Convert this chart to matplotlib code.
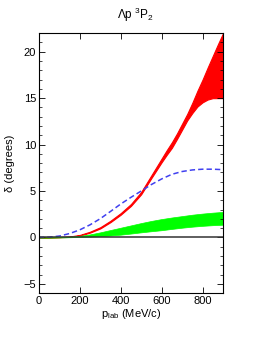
import numpy as np
import matplotlib
matplotlib.use("Agg")
import matplotlib.pyplot as plt
from matplotlib.ticker import MultipleLocator

plt.rcParams['font.family'] = ['Liberation Sans', 'DejaVu Sans']
plt.rcParams['mathtext.fontset'] = 'custom'
plt.rcParams['mathtext.rm'] = 'Liberation Sans'
plt.rcParams['mathtext.it'] = 'Liberation Sans:italic'

# red band (upper / lower)
p_red = [0, 50, 100, 150, 200, 250, 300, 350, 400, 450, 500, 550, 600, 625, 650, 675,
         700, 725, 750, 775, 800, 825, 850, 875, 900]
red_up = [0, 0.01, 0.04, 0.1, 0.27, 0.62, 1.1, 1.8, 2.62, 3.6, 4.9, 6.7, 8.5, 9.4, 10.25, 11.2,
          12.25, 13.3, 14.5, 15.8, 17.0, 18.3, 19.55, 20.8, 22.0]
red_lo = [0, 0.0, 0.02, 0.06, 0.2, 0.52, 0.97, 1.65, 2.45, 3.4, 4.65, 6.4, 8.1, 8.9, 9.65, 10.6,
          11.6, 12.6, 13.4, 14.1, 14.55, 14.85, 15.0, 15.0, 15.0]

# green band
p_green = [0, 50, 100, 150, 200, 250, 300, 350, 400, 450, 500, 550, 600, 650, 700, 750, 800, 850, 900]
green_up = [0, 0.0, 0.03, 0.08, 0.17, 0.33, 0.55, 0.8, 1.05, 1.3, 1.55, 1.78, 1.98, 2.15, 2.3,
            2.45, 2.57, 2.67, 2.75]
green_lo = [0, 0.0, 0.0, 0.02, 0.05, 0.09, 0.14, 0.21, 0.3, 0.42, 0.55, 0.67, 0.78, 0.92, 1.05,
            1.16, 1.25, 1.32, 1.37]

# blue dashed curve
p_blue = [0, 50, 100, 150, 200, 250, 300, 350, 400, 450, 500, 550, 600, 650, 700, 750, 800, 850, 900]
blue = [0, 0.03, 0.15, 0.42, 0.82, 1.36, 2.02, 2.8, 3.6, 4.32, 5.0, 5.7, 6.3, 6.8, 7.1, 7.27, 7.35, 7.35, 7.3]

fig = plt.figure(figsize=(2.7, 3.49), dpi=100)
ax = fig.add_axes([0.144, 0.160, 0.682, 0.745])

ax.fill_between(p_red, red_lo, red_up, color='red', lw=0.8, edgecolor='red')
ax.fill_between(p_green, green_lo, green_up, color='#00ff00', lw=0.5, edgecolor='#00ff00')
ax.plot(p_blue, blue, color='#4040f0', ls=(0, (3.5, 2)), lw=1.1)
ax.axhline(0, color='#333333', lw=1.1)

ax.set_xlim(0, 900)
ax.set_ylim(-6, 22)
ax.xaxis.set_major_locator(MultipleLocator(200))
ax.yaxis.set_major_locator(MultipleLocator(5))
ax.yaxis.set_minor_locator(MultipleLocator(1))
ax.tick_params(which='both', direction='in', top=True, right=True, labelsize=8, pad=2)
ax.tick_params(which='major', length=4, width=0.6)
ax.tick_params(which='minor', length=2, width=0.5)
for s in ax.spines.values():
    s.set_linewidth(0.8)

ax.set_xlabel(r'p$_{\mathrm{lab}}$ (MeV/c)', fontsize=8, labelpad=1)
ax.set_ylabel('δ (degrees)', fontsize=8, labelpad=6)
fig.text(0.5, 0.958, r'$\Lambda$p $^{3}$P$_{2}$', ha='center', va='center', fontsize=8.5)

fig.savefig('out.png', dpi=100)
